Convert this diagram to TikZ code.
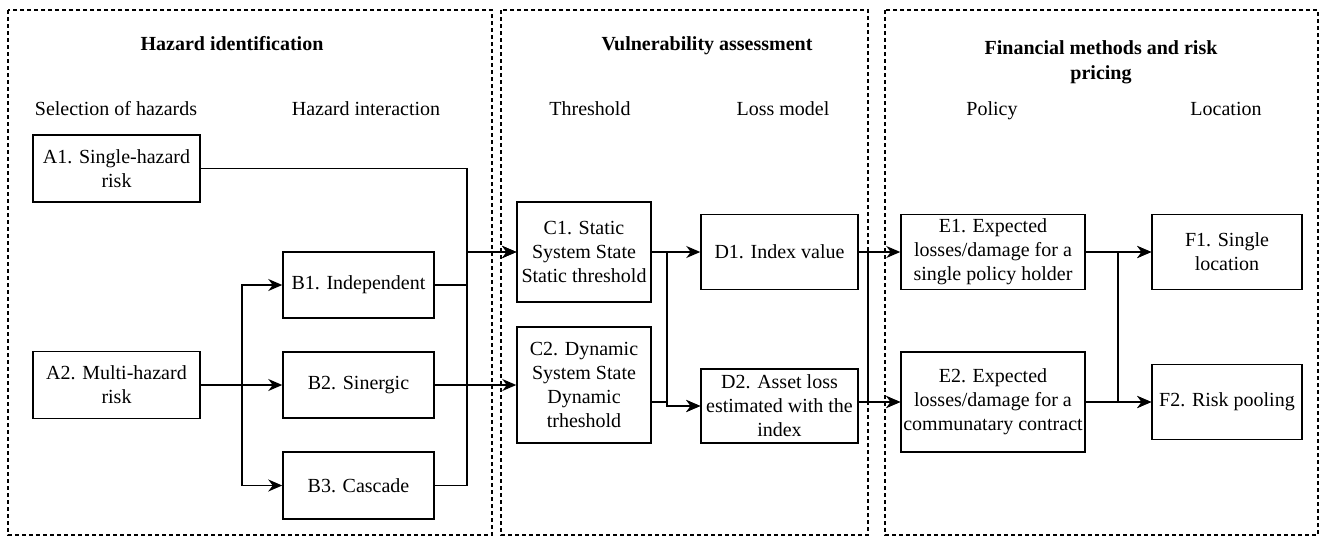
\documentclass[tikz,border=0pt]{standalone}
\usepackage{fontspec}
\setmainfont{Liberation Serif}
\usetikzlibrary{arrows.meta}
\begin{document}
\begin{tikzpicture}[x=1pt,y=-1pt,
  box/.style={draw, line width=1.5pt, inner sep=0pt, align=center, font=\fontsize{20}{24}\selectfont},
  lbl/.style={inner sep=0pt, anchor=base, font=\fontsize{20}{24}\selectfont},
  ttl/.style={inner sep=0pt, align=center, font=\fontsize{20}{25}\selectfont\bfseries},
  panel/.style={draw, line width=1.4pt, dash pattern=on 4pt off 3pt},
  conn/.style={line width=1.5pt},
  arr/.style={conn, -{Stealth[length=14pt,width=12pt,inset=4.5pt]}}
]
\useasboundingbox (0,0) rectangle (1320,536);
% panels
\draw[panel] (8,10) rectangle (492,535);
\draw[panel] (501,10) rectangle (868,535);
\draw[panel] (885,10) rectangle (1318,535);
% titles
\node[ttl, anchor=base] (t1) at (232,50) {Hazard identification};
\node[ttl, anchor=base] (t2) at (707,50) {Vulnerability assessment};
\node[ttl] (t3) at (1101,62) {Financial methods and risk\\pricing};
% column labels
\node[lbl] (l1) at (116,115) {Selection of hazards};
\node[lbl] (l2) at (366,115) {Hazard interaction};
\node[lbl] (l3) at (590,115) {Threshold};
\node[lbl] (l4) at (783,115) {Loss model};
\node[lbl] (l5) at (992,115) {Policy};
\node[lbl] (l6) at (1226,115) {Location};
% boxes
\node[box, minimum width=167pt, minimum height=67pt] (A1) at (116.5,168.5) {A1. Single-hazard\\risk};
\node[box, minimum width=167pt, minimum height=67pt] (A2) at (116.5,385) {A2. Multi-hazard\\risk};
\node[box, minimum width=151pt, minimum height=66pt] (B1) at (358.5,285) {B1. Independent};
\node[box, minimum width=151pt, minimum height=66pt] (B2) at (358.5,385) {B2. Sinergic};
\node[box, minimum width=151pt, minimum height=67pt] (B3) at (358.5,485.5) {B3. Cascade};
\node[box, minimum width=134pt, minimum height=100pt] (C1) at (584,252) {C1. Static\\System State\\Static threshold};
\node[box, minimum width=134pt, minimum height=116pt] (C2) at (584,385) {C2. Dynamic\\System State\\Dynamic\\trheshold};
\node[box, minimum width=157pt, minimum height=75pt] (D1) at (779.5,252) {D1. Index value};
\node[box, minimum width=157pt, minimum height=74pt] (D2) at (779.5,406) {D2. Asset loss\\estimated with the\\index};
\node[box, minimum width=184pt, minimum height=75pt] (E1) at (993,252) {E1. Expected\\losses/damage for a\\single policy holder};
\node[box, minimum width=184pt, minimum height=100pt] (E2) at (993,402) {E2. Expected\\losses/damage for a\\communatary contract};
\node[box, minimum width=150pt, minimum height=75pt] (F1) at (1227,252) {F1. Single\\location};
\node[box, minimum width=150pt, minimum height=75pt] (F2) at (1227,402) {F2. Risk pooling};
% junction coordinates
\coordinate (v0) at (242,385);
\coordinate (v1) at (467,252);
\coordinate (v2) at (667,406);
\coordinate (v3) at (868,402);
\coordinate (v4) at (1118,402);
\coordinate (v5) at (1118,252);
% connectors
\draw[arr] (A2.east) -- (B2.west);
\draw[arr] (v0) |- (B1.west);
\draw[arr] (v0) |- (B3.west);
\draw[arr] (A1.east) -| (v1) -- (C1.west);
\draw[arr] (B1.east) -| (v1) -- (C1.west);
\draw[arr] (B3.east) -| (v1) -- (C1.west);
\draw[arr] (B2.east) -- (C2.west);
\draw[arr] (C1.east) -- (D1.west);
\draw[arr] (C1.east) -| (v2) -- (D2.west);
\draw[arr] ([yshift=-17pt]C2.east) -| (v2) -- (D2.west);
\draw[arr] (D1.east) -- (E1.west);
\draw[arr] (D1.east) -| (v3) -- (E2.west);
\draw[arr] ([yshift=4pt]D2.east) -- (E2.west);
\draw[arr] (E1.east) -- (F1.west);
\draw[arr] (E1.east) -| (v4) -- (F2.west);
\draw[arr] (E2.east) -- (F2.west);
\draw[arr] (E2.east) -| (v5) -- (F1.west);
\end{tikzpicture}
\end{document}
